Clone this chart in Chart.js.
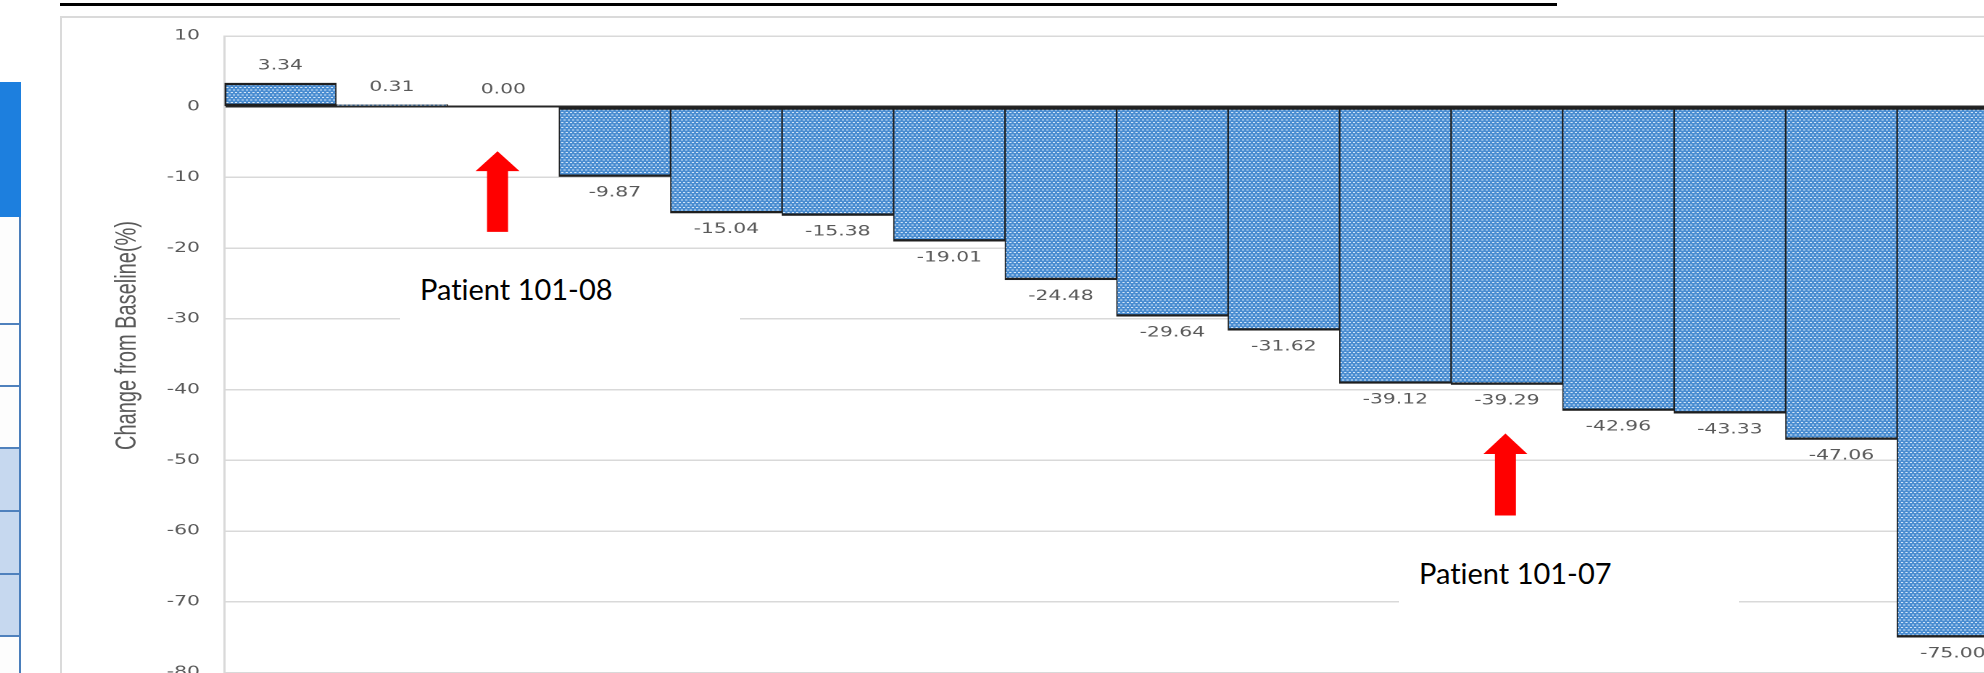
<!DOCTYPE html>
<html>
<head>
<meta charset="utf-8">
<script src="https://cdn.jsdelivr.net/npm/chart.js@4.4.1/dist/chart.umd.min.js"></script>
<style>
  html, body { margin: 0; padding: 0; width: 1984px; height: 673px; overflow: hidden; background: #fff; }
  .abs { position: absolute; }
  #titleRule { left: 60px; top: 3px; width: 1497px; height: 3px; background: #000; }
  #tblHead { left: 0; top: 82px; width: 21px; height: 135px; background: #1d7fde; }
  #tblBody { left: 0; top: 217px; width: 19px; height: 470px; border-right: 2px solid #4a7ebb; background: #fdfdfd; }
  .tblRow { position: absolute; left: 0; width: 19px; border-top: 2px solid #4f81bd; }
  .tblShade { background: #c6d8ef; }
  #frame { left: 60px; top: 16px; width: 1940px; height: 700px; border-left: 2px solid #dadada; border-top: 2px solid #dadada; }
  #stretch { left: 61px; top: 17px; width: 1406px; height: 700px; transform: scaleX(1.45); transform-origin: 0 0; }
  #waterfall { display: block; width: 1406px; height: 700px; }
  .note { position: absolute; background: #fff; }
  .note span { position: absolute; left: 20px; font-family: Lato, "Liberation Sans", sans-serif; font-size: 29px; line-height: 29px; color: #000; white-space: nowrap; font-variant-ligatures: none; font-feature-settings: "liga" 0, "clig" 0; }
</style>
</head>
<body>
<div id="titleRule" class="abs"></div>

<div id="tblHead" class="abs"></div>
<div id="tblBody" class="abs">
  <div class="tblRow" style="top:106px;height:60px;"></div>
  <div class="tblRow" style="top:168px;height:60px;"></div>
  <div class="tblRow tblShade" style="top:230px;height:61px;"></div>
  <div class="tblRow tblShade" style="top:293px;height:61px;"></div>
  <div class="tblRow tblShade" style="top:356px;height:60px;"></div>
  <div class="tblRow" style="top:418px;height:60px;"></div>
</div>

<div id="frame" class="abs"></div>
<div id="stretch" class="abs"><canvas id="waterfall" width="1406" height="700"></canvas></div>

<div class="note" style="left:400px;top:258px;width:340px;height:66px;"><span style="top:16px;">Patient 101-08</span></div>
<div class="note" style="left:1399px;top:542px;width:340px;height:66px;"><span style="top:16px;">Patient 101-07</span></div>

<script>
// Best percentage change from baseline, one bar per patient, sorted high to low
const patients = ['1', '2', '3', '4', '5', '6', '7', '8', '9', '10', '11', '12', '13', '14', '15', '16'];
const changeFromBaseline = [3.34, 0.31, 0.00, -9.87, -15.04, -15.38, -19.01, -24.48, -29.64, -31.62, -39.12, -39.29, -42.96, -43.33, -47.06, -75.00];
const yAxisRange = { min: -80, max: 10, step: 10 };
const yAxisTitle = 'Change from Baseline(%)';

// Red arrows pointing at two highlighted patients (bar index, arrow tip / neck / tail in % units)
const arrowMarks = [
  { index: 2, tip: -6.3, neck: -9.1, tail: -17.7 },
  { index: 11, tip: -46.2, neck: -49.1, tail: -57.8 }
];
const arrowShift = [-4, -1];   // small sideways nudge of each arrow, canvas px

const STRETCH = 1.45;   // the chart picture is widened horizontally on the page
const GRAY_TEXT = '#595959';

// dotted blue fill
function dottedBlue() {
  const tile = document.createElement('canvas');
  tile.width = 6; tile.height = 10;
  const g = tile.getContext('2d');
  g.fillStyle = '#4a8dd1';
  g.fillRect(0, 0, 6, 10);
  g.fillStyle = '#d3e5f7';
  g.fillRect(0, 0, 3, 2);
  g.fillRect(3, 5, 3, 2);
  const p = g.createPattern(tile, 'repeat');
  p.setTransform(new DOMMatrix().scale(0.5));
  return p;
}

const valueLabels = {
  id: 'valueLabels',
  afterDatasetsDraw(chart) {
    const ctx = chart.ctx;
    const meta = chart.getDatasetMeta(0);
    ctx.save();
    ctx.font = '14px "DejaVu Sans"';
    ctx.fillStyle = GRAY_TEXT;
    ctx.textAlign = 'center';
    ctx.textBaseline = 'middle';
    meta.data.forEach((bar, i) => {
      const v = changeFromBaseline[i];
      const y = v >= 0 ? bar.y - 17 : bar.y + 16.5;
      ctx.fillText(v.toFixed(2), bar.x, y);
    });
    ctx.restore();
  }
};

const arrows = {
  id: 'arrows',
  afterDraw(chart) {
    const ctx = chart.ctx;
    const xs = chart.scales.x, ys = chart.scales.y;
    const head = 22 / STRETCH, shaft = 10.5 / STRETCH;
    ctx.save();
    ctx.fillStyle = '#ff0000';
    arrowMarks.forEach((a, k) => {
      const cx = xs.getPixelForValue(a.index) + arrowShift[k];
      const yTip = ys.getPixelForValue(a.tip);
      const yNeck = ys.getPixelForValue(a.neck);
      const yTail = ys.getPixelForValue(a.tail);
      ctx.beginPath();
      ctx.moveTo(cx, yTip);
      ctx.lineTo(cx + head, yNeck);
      ctx.lineTo(cx + shaft, yNeck);
      ctx.lineTo(cx + shaft, yTail);
      ctx.lineTo(cx - shaft, yTail);
      ctx.lineTo(cx - shaft, yNeck);
      ctx.lineTo(cx - head, yNeck);
      ctx.closePath();
      ctx.fill();
    });
    ctx.restore();
  }
};

const axisTitle = {
  id: 'axisTitle',
  afterDraw(chart) {
    const ctx = chart.ctx;
    ctx.save();
    ctx.translate(46.2, 318.5);
    ctx.rotate(-Math.PI / 2);
    ctx.font = '20px "Liberation Sans"';
    ctx.fillStyle = GRAY_TEXT;
    ctx.textAlign = 'center';
    ctx.textBaseline = 'middle';
    ctx.fillText(yAxisTitle, 0, 0);
    ctx.restore();
  }
};

const last = changeFromBaseline.length - 1;

new Chart(document.getElementById('waterfall'), {
  type: 'bar',
  data: {
    labels: patients,
    datasets: [{
      data: changeFromBaseline,
      backgroundColor: dottedBlue(),
      borderColor: '#1f1f1f',
      borderWidth: (c) => ({
        top: 2.4, bottom: 2.4,
        left: c.dataIndex === 0 ? 1.6 : 0.9,
        right: c.dataIndex === last ? 1.6 : 0.9
      }),
      borderSkipped: false,
      categoryPercentage: 1,
      barPercentage: 1
    }]
  },
  options: {
    responsive: false,
    maintainAspectRatio: false,
    animation: false,
    devicePixelRatio: 2,
    layout: { padding: { left: 0, right: 62.8, top: 19, bottom: 44.5 } },
    plugins: { legend: { display: false }, tooltip: { enabled: false } },
    scales: {
      x: { display: false },
      y: {
        min: yAxisRange.min,
        max: yAxisRange.max,
        ticks: {
          stepSize: yAxisRange.step,
          padding: 0,
          color: GRAY_TEXT,
          font: { family: '"DejaVu Sans"', size: 14 }
        },
        grid: {
          // invisible tick marks keep the labels clear of the plot edge
          drawTicks: true,
          tickLength: 17,
          tickColor: 'rgba(0,0,0,0)',
          color: (c) => c.tick && c.tick.value === 0 ? '#262626' : '#d9d9d9',
          lineWidth: (c) => c.tick && c.tick.value === 0 ? 2 : 1.5
        },
        border: { display: true, color: '#d9d9d9', width: 1.5 },
        afterFit(scale) { scale.width = 112.8; }
      }
    }
  },
  plugins: [valueLabels, arrows, axisTitle]
});
</script>
</body>
</html>
